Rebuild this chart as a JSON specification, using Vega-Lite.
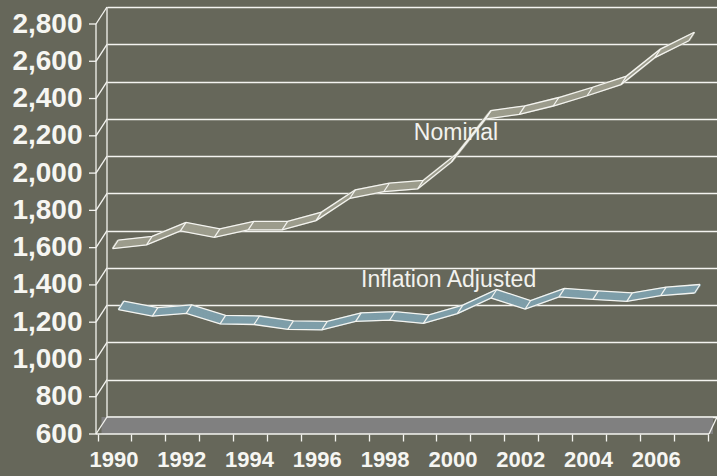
{
  "$schema": "https://vega.github.io/schema/vega-lite/v6.json",
  "width": 610,
  "height": 410,
  "autosize": {"type": "none"},
  "padding": {"left": 107, "top": 7, "right": 0, "bottom": 59},
  "background": "#66675a",
  "config": {"view": {"stroke": null}, "font": "Liberation Sans"},
  "datasets": {
    "series": [
      {"year": 1990, "nominal": 1595, "adjusted": 1222},
      {"year": 1991, "nominal": 1615, "adjusted": 1187},
      {"year": 1992, "nominal": 1690, "adjusted": 1202},
      {"year": 1993, "nominal": 1655, "adjusted": 1145},
      {"year": 1994, "nominal": 1695, "adjusted": 1142},
      {"year": 1995, "nominal": 1695, "adjusted": 1116},
      {"year": 1996, "nominal": 1745, "adjusted": 1113},
      {"year": 1997, "nominal": 1865, "adjusted": 1159},
      {"year": 1998, "nominal": 1900, "adjusted": 1165},
      {"year": 1999, "nominal": 1915, "adjusted": 1148},
      {"year": 2000, "nominal": 2060, "adjusted": 1200},
      {"year": 2001, "nominal": 2290, "adjusted": 1284},
      {"year": 2002, "nominal": 2315, "adjusted": 1225},
      {"year": 2003, "nominal": 2360, "adjusted": 1290},
      {"year": 2004, "nominal": 2415, "adjusted": 1277},
      {"year": 2005, "nominal": 2475, "adjusted": 1266},
      {"year": 2006, "nominal": 2620, "adjusted": 1297},
      {"year": 2007, "nominal": 2710, "adjusted": 1311}
    ],
    "levels": [
      {"level": 600}, {"level": 800}, {"level": 1000}, {"level": 1200},
      {"level": 1400}, {"level": 1600}, {"level": 1800}, {"level": 2000},
      {"level": 2200}, {"level": 2400}, {"level": 2600}, {"level": 2800}
    ]
  },
  "data": {"name": "series"},
  "layer": [
    {
      "data": {"values": [{}]},
      "mark": {"type": "rect", "color": "#808080", "xOffset": -5.5, "x2Offset": -4, "y2Offset": 17},
      "encoding": {
        "x": {
          "datum": 1989.5, "type": "quantitative",
          "scale": {"domain": [1989.5, 2007.5], "nice": false, "zero": false},
          "axis": {
            "title": null, "grid": false, "domain": false, "offset": 17, "tickCount": 20,
            "values": [1989.5, 1990.5, 1991.5, 1992.5, 1993.5, 1994.5, 1995.5, 1996.5, 1997.5, 1998.5, 1999.5, 2000.5, 2001.5, 2002.5, 2003.5, 2004.5, 2005.5, 2006.5, 2007.5],
            "tickOffset": -9.5, "tickSize": 7, "tickColor": "#f4f4f0", "tickWidth": 1.3,
            "labelOffset": 16,
            "labelExpr": "(datum.value + 0.5) % 2 == 0 && datum.value < 2007 ? format(datum.value + 0.5, 'd') : ''",
            "labelFlush": false, "labelOverlap": false, "labelBound": false, "labelPadding": 8,
            "labelFontSize": 22, "labelFontWeight": "bold", "labelColor": "#f6f6f2", "labelFont": "Liberation Sans"
          }
        },
        "x2": {"datum": 2007.5},
        "y": {
          "datum": 600, "type": "quantitative",
          "scale": {"domain": [600, 2800], "nice": false, "zero": false},
          "axis": {
            "title": null, "grid": true, "gridColor": "#f4f4f0", "gridWidth": 1.3, "gridOpacity": 1,
            "ticks": false, "tickSize": 0, "domain": false, "offset": 11, "tickCount": 13,
            "values": [600, 800, 1000, 1200, 1400, 1600, 1800, 2000, 2200, 2400, 2600, 2800],
            "labelOverlap": false, "labelBound": false, "labelFlush": false,
            "format": ",d", "labelOffset": 17, "labelPadding": 14,
            "labelFontSize": 28, "labelFontWeight": "bold", "labelColor": "#f6f6f2", "labelFont": "Liberation Sans"
          }
        },
        "y2": {"datum": 600}
      }
    },
    {
      "data": {"values": [{}]},
      "mark": {"type": "rule", "color": "#f4f4f0", "strokeWidth": 1.3},
      "encoding": {
        "x": {"datum": 1989.5, "type": "quantitative"},
        "y": {"datum": 600, "type": "quantitative"},
        "y2": {"datum": 2800}
      }
    },
    {
      "data": {"values": [{}]},
      "mark": {"type": "rule", "color": "#f4f4f0", "strokeWidth": 1.3, "xOffset": -11, "yOffset": 17, "y2Offset": 17},
      "encoding": {
        "x": {"datum": 1989.5, "type": "quantitative"},
        "y": {"datum": 600, "type": "quantitative"},
        "y2": {"datum": 2800}
      }
    },
    {
      "data": {"values": [{}]},
      "mark": {"type": "rule", "color": "#f4f4f0", "strokeWidth": 1.3},
      "encoding": {
        "x": {"datum": 1989.5, "type": "quantitative"},
        "x2": {"datum": 2007.5},
        "y": {"datum": 600, "type": "quantitative"}
      }
    },
    {
      "data": {"values": [{}]},
      "mark": {"type": "rule", "color": "#f4f4f0", "strokeWidth": 1.3, "xOffset": -11, "x2Offset": -8, "yOffset": 17},
      "encoding": {
        "x": {"datum": 1989.5, "type": "quantitative"},
        "x2": {"datum": 2007.5},
        "y": {"datum": 600, "type": "quantitative"}
      }
    },
    {
      "data": {"values": [{}]},
      "mark": {"type": "rule", "color": "#f4f4f0", "strokeWidth": 1.3, "xOffset": -8, "yOffset": 17},
      "encoding": {
        "x": {"datum": 2007.5, "type": "quantitative"},
        "x2": {"datum": 2007.5},
        "y": {"datum": 600, "type": "quantitative"},
        "y2": {"datum": 600}
      }
    },
    {
      "data": {"name": "levels"},
      "mark": {"type": "rule", "color": "#f4f4f0", "strokeWidth": 1.3, "xOffset": -11, "yOffset": 17},
      "encoding": {
        "x": {"datum": 1989.5, "type": "quantitative"},
        "x2": {"datum": 1989.5},
        "y": {"field": "level", "type": "quantitative"},
        "y2": {"field": "level"}
      }
    },
    {
      "data": {"name": "levels"},
      "mark": {"type": "rule", "color": "#f4f4f0", "strokeWidth": 1.3, "xOffset": -18, "x2Offset": -11, "yOffset": 17},
      "encoding": {
        "x": {"datum": 1989.5, "type": "quantitative"},
        "x2": {"datum": 1989.5},
        "y": {"field": "level", "type": "quantitative"}
      }
    },
    {"mark": {"type": "line", "color": "#9c9c8c", "strokeWidth": 2.6, "strokeJoin": "round", "strokeCap": "round", "xOffset": -10.74, "yOffset": 16.15},
     "encoding": {"x": {"field": "year", "type": "quantitative"}, "y": {"field": "nominal", "type": "quantitative"}}},
    {"mark": {"type": "line", "color": "#9c9c8c", "strokeWidth": 2.6, "strokeJoin": "round", "strokeCap": "round", "xOffset": -9.62, "yOffset": 14.45},
     "encoding": {"x": {"field": "year", "type": "quantitative"}, "y": {"field": "nominal", "type": "quantitative"}}},
    {"mark": {"type": "line", "color": "#9c9c8c", "strokeWidth": 2.6, "strokeJoin": "round", "strokeCap": "round", "xOffset": -8.5, "yOffset": 12.75},
     "encoding": {"x": {"field": "year", "type": "quantitative"}, "y": {"field": "nominal", "type": "quantitative"}}},
    {"mark": {"type": "line", "color": "#9c9c8c", "strokeWidth": 2.6, "strokeJoin": "round", "strokeCap": "round", "xOffset": -7.38, "yOffset": 11.05},
     "encoding": {"x": {"field": "year", "type": "quantitative"}, "y": {"field": "nominal", "type": "quantitative"}}},
    {"mark": {"type": "line", "color": "#9c9c8c", "strokeWidth": 2.6, "strokeJoin": "round", "strokeCap": "round", "xOffset": -6.26, "yOffset": 9.35},
     "encoding": {"x": {"field": "year", "type": "quantitative"}, "y": {"field": "nominal", "type": "quantitative"}}},
    {"mark": {"type": "line", "color": "#f4f4f0", "strokeWidth": 1.3, "xOffset": -11.3, "yOffset": 17},
     "encoding": {"x": {"field": "year", "type": "quantitative"}, "y": {"field": "nominal", "type": "quantitative"}}},
    {"mark": {"type": "line", "color": "#f4f4f0", "strokeWidth": 1.3, "xOffset": -5.7, "yOffset": 8.5},
     "encoding": {"x": {"field": "year", "type": "quantitative"}, "y": {"field": "nominal", "type": "quantitative"}}},
    {"mark": {"type": "rule", "color": "#f4f4f0", "strokeWidth": 1.2, "xOffset": -11.3, "yOffset": 17, "x2Offset": -5.7, "y2Offset": 8.5},
     "encoding": {"x": {"field": "year", "type": "quantitative"}, "x2": {"field": "year"}, "y": {"field": "nominal", "type": "quantitative"}, "y2": {"field": "nominal"}}},
    {"mark": {"type": "line", "color": "#7e9ea9", "strokeWidth": 2.6, "strokeJoin": "round", "strokeCap": "round", "xOffset": -4.95, "yOffset": 7.65},
     "encoding": {"x": {"field": "year", "type": "quantitative"}, "y": {"field": "adjusted", "type": "quantitative"}}},
    {"mark": {"type": "line", "color": "#7e9ea9", "strokeWidth": 2.6, "strokeJoin": "round", "strokeCap": "round", "xOffset": -3.85, "yOffset": 5.95},
     "encoding": {"x": {"field": "year", "type": "quantitative"}, "y": {"field": "adjusted", "type": "quantitative"}}},
    {"mark": {"type": "line", "color": "#7e9ea9", "strokeWidth": 2.6, "strokeJoin": "round", "strokeCap": "round", "xOffset": -2.75, "yOffset": 4.25},
     "encoding": {"x": {"field": "year", "type": "quantitative"}, "y": {"field": "adjusted", "type": "quantitative"}}},
    {"mark": {"type": "line", "color": "#7e9ea9", "strokeWidth": 2.6, "strokeJoin": "round", "strokeCap": "round", "xOffset": -1.65, "yOffset": 2.55},
     "encoding": {"x": {"field": "year", "type": "quantitative"}, "y": {"field": "adjusted", "type": "quantitative"}}},
    {"mark": {"type": "line", "color": "#7e9ea9", "strokeWidth": 2.6, "strokeJoin": "round", "strokeCap": "round", "xOffset": -0.55, "yOffset": 0.85},
     "encoding": {"x": {"field": "year", "type": "quantitative"}, "y": {"field": "adjusted", "type": "quantitative"}}},
    {"mark": {"type": "line", "color": "#f4f4f0", "strokeWidth": 1.3, "xOffset": -5.5, "yOffset": 8.5},
     "encoding": {"x": {"field": "year", "type": "quantitative"}, "y": {"field": "adjusted", "type": "quantitative"}}},
    {"mark": {"type": "line", "color": "#f4f4f0", "strokeWidth": 1.3, "xOffset": 0, "yOffset": 0},
     "encoding": {"x": {"field": "year", "type": "quantitative"}, "y": {"field": "adjusted", "type": "quantitative"}}},
    {"mark": {"type": "rule", "color": "#f4f4f0", "strokeWidth": 1.2, "xOffset": -5.5, "yOffset": 8.5, "x2Offset": 0, "y2Offset": 0},
     "encoding": {"x": {"field": "year", "type": "quantitative"}, "x2": {"field": "year"}, "y": {"field": "adjusted", "type": "quantitative"}, "y2": {"field": "adjusted"}}},
    {
      "data": {"values": [{"label": "Nominal"}]},
      "mark": {"type": "text", "color": "#f2f2ee", "font": "Liberation Sans", "fontSize": 23, "align": "center", "baseline": "alphabetic"},
      "encoding": {
        "x": {"datum": 1999.8, "type": "quantitative"},
        "y": {"datum": 2086, "type": "quantitative"},
        "text": {"field": "label"}
      }
    },
    {
      "data": {"values": [{"label": "Inflation Adjusted"}]},
      "mark": {"type": "text", "color": "#f2f2ee", "font": "Liberation Sans", "fontSize": 23, "align": "center", "baseline": "alphabetic"},
      "encoding": {
        "x": {"datum": 1999.58, "type": "quantitative"},
        "y": {"datum": 1299, "type": "quantitative"},
        "text": {"field": "label"}
      }
    }
  ]
}
